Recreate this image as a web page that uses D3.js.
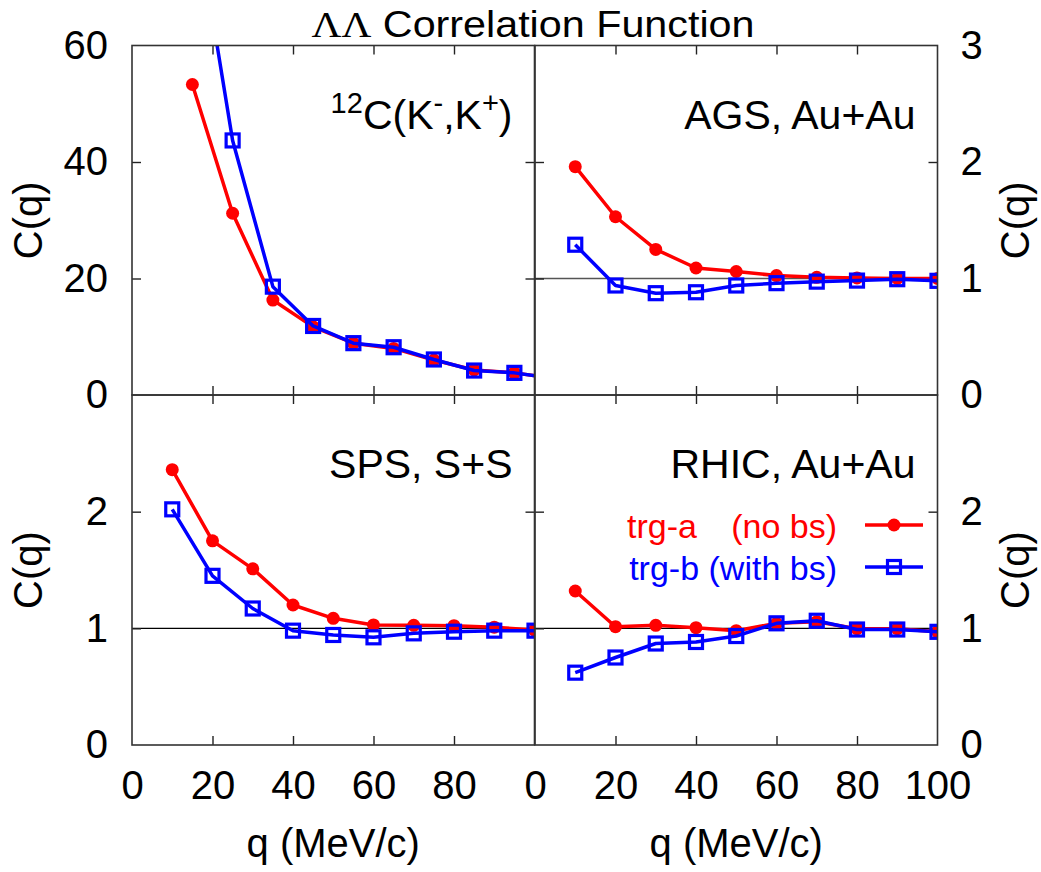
<!DOCTYPE html>
<html>
<head>
<meta charset="utf-8">
<script src="https://cdn.jsdelivr.net/npm/d3@7"></script>
<style>
  html, body { margin: 0; padding: 0; background: #fff; }
  svg { display: block; font-family: "Liberation Sans", Arial, Helvetica, sans-serif; }
</style>
</head>
<body>
<svg id="chart" width="1041" height="872"></svg>
<script>
// Momentum grid (MeV/c)
const qGrid = [10, 20, 30, 40, 50, 60, 70, 80, 90, 100];
const qGridKaon = [15, 25, 35, 45, 55, 65, 75, 85, 95, 105];

// 12C(K-,K+) reaction
const kaonNoBs   = [53.3, 31.2, 16.3, 11.7, 8.9, 8.0, 6.0, 4.3, 3.8, 2.8];
const kaonWithBs = [86.0, 43.7, 18.6, 11.85, 8.9, 8.2, 6.1, 4.2, 3.8, 2.8];
// AGS, Au+Au
const agsNoBs    = [1.96, 1.53, 1.25, 1.09, 1.06, 1.025, 1.01, 1.005, 1.0, 1.0];
const agsWithBs  = [1.29, 0.94, 0.874, 0.882, 0.94, 0.96, 0.973, 0.982, 0.994, 0.98];
// SPS, S+S
const spsNoBs    = [2.36, 1.75, 1.51, 1.20, 1.086, 1.029, 1.026, 1.023, 1.01, 0.985];
const spsWithBs  = [2.02, 1.45, 1.17, 0.98, 0.943, 0.923, 0.957, 0.971, 0.98, 0.98];
// RHIC, Au+Au
const rhicNoBs   = [1.32, 1.014, 1.026, 1.006, 0.98, 1.043, 1.057, 0.997, 0.997, 0.971];
const rhicWithBs = [0.62, 0.75, 0.87, 0.883, 0.934, 1.043, 1.065, 0.99, 0.99, 0.97];

// Tick labels
const xTicks = [0, 20, 40, 60, 80, 100];
const yTicksKaon = [0, 20, 40, 60];
const yTicksHI = [0, 1, 2, 3];

const seriesNames = ["trg-a", "(no bs)", "trg-b (with bs)"];
const RED = "#ff0000", BLUE = "#0000ff";

const svg = d3.select("#chart");
const FONT = 40;
const LW = 3.5;

const colL = [132, 534.5], colR = [535, 937.5];
const rowT = [395, 45.5], rowB = [745, 395];

const panels = [
  { id: "tl", xr: colL, yr: rowT, ymax: 60, q: qGridKaon, a: kaonNoBs, b: kaonWithBs,
    label: "kaon", leftLabels: [0, 20, 40, 60], rightLabels: [], bottomLabels: [], unity: false, ylabel: "left" },
  { id: "tr", xr: colR, yr: rowT, ymax: 3, q: qGrid, a: agsNoBs, b: agsWithBs,
    label: "AGS, Au+Au", leftLabels: [], rightLabels: [0, 1, 2, 3], bottomLabels: [], unity: true, ylabel: "right" },
  { id: "bl", xr: colL, yr: rowB, ymax: 3, q: qGrid, a: spsNoBs, b: spsWithBs,
    label: "SPS, S+S", leftLabels: [0, 1, 2], rightLabels: [], bottomLabels: [0, 20, 40, 60, 80], unity: true, ylabel: "left" },
  { id: "br", xr: colR, yr: rowB, ymax: 3, q: qGrid, a: rhicNoBs, b: rhicWithBs,
    label: "RHIC, Au+Au", leftLabels: [], rightLabels: [0, 1, 2], bottomLabels: [0, 20, 40, 60, 80, 100], unity: true, ylabel: "right" }
];

const defs = svg.append("defs");

panels.forEach(p => {
  const x = d3.scaleLinear().domain([0, 100]).range(p.xr);
  const y = d3.scaleLinear().domain([0, p.ymax]).range(p.yr);
  const yTicks = p.ymax === 60 ? yTicksKaon : yTicksHI;
  const innerY = yTicks.filter(v => v > 0 && v < p.ymax);
  const innerX = xTicks.filter(v => v > 0 && v < 100);

  defs.append("clipPath").attr("id", "clip-" + p.id)
    .append("rect")
    .attr("x", p.xr[0]).attr("y", p.yr[1])
    .attr("width", p.xr[1] - p.xr[0]).attr("height", p.yr[0] - p.yr[1]);

  const g = svg.append("g");

  // reference line at C(q) = 1
  if (p.unity) {
    g.append("line")
      .attr("x1", p.xr[0]).attr("x2", p.xr[1])
      .attr("y1", y(1)).attr("y2", y(1))
      .attr("stroke", p.id === "tr" ? "#555" : "#000").attr("stroke-width", 1.3);
  }

  // inward ticks on all four sides
  const styleAxis = sel => {
    sel.select(".domain").remove();
    sel.selectAll("line").attr("stroke", "#222").attr("stroke-width", 1.4);
  };
  g.append("g").attr("transform", `translate(${p.xr[0]},0)`)
    .call(d3.axisLeft(y).tickValues(innerY).tickSize(-9).tickFormat("")).call(styleAxis);
  g.append("g").attr("transform", `translate(${p.xr[1]},0)`)
    .call(d3.axisRight(y).tickValues(innerY).tickSize(-9).tickFormat("")).call(styleAxis);
  g.append("g").attr("transform", `translate(0,${p.yr[0]})`)
    .call(d3.axisBottom(x).tickValues(innerX).tickSize(-9).tickFormat("")).call(styleAxis);
  g.append("g").attr("transform", `translate(0,${p.yr[1]})`)
    .call(d3.axisTop(x).tickValues(innerX).tickSize(-9).tickFormat("")).call(styleAxis);

  // tick labels
  const styleLabels = sel => {
    sel.select(".domain").remove();
    sel.selectAll("line").remove();
    sel.selectAll("text").attr("font-size", FONT).attr("fill", "#000")
      .attr("font-family", "Liberation Sans, Arial, sans-serif");
  };
  if (p.leftLabels.length) {
    g.append("g").attr("transform", `translate(${p.xr[0]},0)`)
      .call(d3.axisLeft(y).tickValues(p.leftLabels).tickSize(0).tickPadding(24).tickFormat(d3.format("d")))
      .call(styleLabels);
  }
  if (p.rightLabels.length) {
    g.append("g").attr("transform", `translate(${p.xr[1]},0)`)
      .call(d3.axisRight(y).tickValues(p.rightLabels).tickSize(0).tickPadding(23).tickFormat(d3.format("d")))
      .call(styleLabels);
  }
  if (p.bottomLabels.length) {
    g.append("g").attr("transform", `translate(0,${p.yr[0]})`)
      .call(d3.axisBottom(x).tickValues(p.bottomLabels).tickSize(0).tickPadding(26).tickFormat(d3.format("d")))
      .call(styleLabels);
  }

  // series
  const plot = g.append("g").attr("clip-path", `url(#clip-${p.id})`);
  const line = d3.line().x(d => x(d[0])).y(d => y(d[1]));
  const ptsA = p.q.map((q, i) => [q, p.a[i]]);
  const ptsB = p.q.map((q, i) => [q, p.b[i]]);

  plot.append("path").datum(ptsA).attr("d", line)
    .attr("fill", "none").attr("stroke", RED).attr("stroke-width", LW).attr("stroke-linejoin", "round");
  plot.selectAll(".dotA").data(ptsA).enter().append("circle")
    .attr("cx", d => x(d[0])).attr("cy", d => y(d[1])).attr("r", 6.5).attr("fill", RED);

  plot.append("path").datum(ptsB).attr("d", line)
    .attr("fill", "none").attr("stroke", BLUE).attr("stroke-width", LW).attr("stroke-linejoin", "round");
  plot.selectAll(".sqB").data(ptsB).enter().append("rect")
    .attr("x", d => x(d[0]) - 6.5).attr("y", d => y(d[1]) - 6.5)
    .attr("width", 13).attr("height", 13)
    .attr("fill", "none").attr("stroke", BLUE).attr("stroke-width", 3.2);

  // frame
  g.append("rect")
    .attr("x", p.xr[0]).attr("y", p.yr[1])
    .attr("width", p.xr[1] - p.xr[0]).attr("height", p.yr[0] - p.yr[1])
    .attr("fill", "none").attr("stroke", "#333").attr("stroke-width", 1.6);

  // panel label
  const labY = p.yr[1] + 83;
  if (p.label === "kaon") {
    const t = g.append("text").attr("x", p.xr[1] - 22).attr("y", labY)
      .attr("text-anchor", "end").attr("font-size", 41);
    t.append("tspan").attr("font-size", 29).attr("dy", -16).text("12");
    t.append("tspan").attr("dy", 16).text("C(K");
    t.append("tspan").attr("font-size", 29).attr("dy", -16).text("-");
    t.append("tspan").attr("dy", 16).text(",K");
    t.append("tspan").attr("font-size", 29).attr("dy", -16).text("+");
    t.append("tspan").attr("dy", 16).text(")");
  } else {
    g.append("text").attr("x", p.xr[1] - 22).attr("y", labY)
      .attr("text-anchor", "end").attr("font-size", 41).text(p.label);
  }

  // y axis title
  const yc = (p.yr[0] + p.yr[1]) / 2;
  const xc = p.ylabel === "left" ? 42 : 1029;
  g.append("text").attr("transform", `translate(${xc},${yc}) rotate(-90)`)
    .attr("text-anchor", "middle").attr("font-size", FONT).text("C(q)");

  // x axis title
  if (p.yr[0] === 745) {
    g.append("text").attr("x", (p.xr[0] + p.xr[1]) / 2).attr("y", 857)
      .attr("text-anchor", "middle").attr("font-size", FONT).text("q (MeV/c)");
  }
});

// title
const title = svg.append("text").attr("x", 533).attr("y", 37)
  .attr("text-anchor", "middle").attr("font-size", 36)
  .attr("textLength", 443).attr("lengthAdjust", "spacingAndGlyphs");
title.append("tspan").attr("font-family", "Liberation Serif, DejaVu Serif, serif").text("ΛΛ");
title.append("tspan").text(" Correlation Function");

// legend (RHIC panel)
const leg = svg.append("g");
const legRows = [
  { y: 525, color: RED, marker: "circle" },
  { y: 567, color: BLUE, marker: "square" }
];
leg.append("text").attr("x", 627).attr("y", 538).attr("font-size", 34).attr("fill", RED).text(seriesNames[0]);
leg.append("text").attr("x", 837).attr("y", 538).attr("text-anchor", "end").attr("font-size", 34).attr("fill", RED).text(seriesNames[1]);
leg.append("text").attr("x", 837).attr("y", 580).attr("text-anchor", "end").attr("font-size", 34).attr("fill", BLUE).text(seriesNames[2]);
legRows.forEach(r => {
  leg.append("line").attr("x1", 865).attr("x2", 923).attr("y1", r.y).attr("y2", r.y)
    .attr("stroke", r.color).attr("stroke-width", LW);
  if (r.marker === "circle") {
    leg.append("circle").attr("cx", 894).attr("cy", r.y).attr("r", 6.5).attr("fill", r.color);
  } else {
    leg.append("rect").attr("x", 894 - 6.5).attr("y", r.y - 6.5).attr("width", 13).attr("height", 13)
      .attr("fill", "none").attr("stroke", r.color).attr("stroke-width", 3.2);
  }
});
</script>
</body>
</html>
